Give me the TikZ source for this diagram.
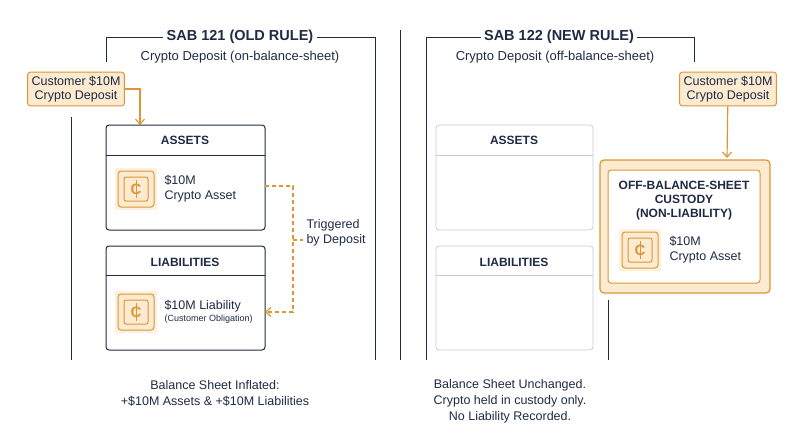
\documentclass[tikz,border=0pt]{standalone}
\usepackage{fontspec}
\setmainfont{Liberation Sans}
\usetikzlibrary{positioning,arrows.meta}
\definecolor{navy}{HTML}{1F2A44}
\definecolor{gold}{HTML}{DD9637}
\definecolor{goldfill}{HTML}{FCEBD0}
\definecolor{paleline}{HTML}{C8CCD4}
\tikzset{frame/.style={draw=navy,line width=1pt},
  deposit/.style={draw=gold,fill=goldfill,rounded corners=3pt,line width=1pt,align=center,text=navy,inner sep=4pt,font=\fontsize{12.5}{14}\selectfont},
  sheet/.style={draw=navy,rounded corners=3pt,line width=1pt},
  ghost/.style={draw=paleline,rounded corners=3pt,line width=0.8pt},
  head/.style={text=navy,font=\bfseries\fontsize{12}{13}\selectfont},
  body/.style={text=navy,align=left,anchor=west,font=\fontsize{12.5}{15}\selectfont},
  flow/.style={draw=gold,line width=1.2pt,-{Straight Barb[length=5pt,width=9pt]}},
  coin/.pic={\fill[goldfill!70] (-21,-21) rectangle (21,21);
    \draw[gold,fill=goldfill,line width=1pt,rounded corners=3pt] (-18,-18) rectangle (18,18);
    \draw[gold,line width=1pt,rounded corners=2pt] (-12,-12) rectangle (12,12);
    \node[text=gold,font=\bfseries\fontsize{15}{15}\selectfont] {C};
    \draw[gold,line width=1pt] (0,-9) -- (0,9);}
}
\begin{document}
\begin{tikzpicture}[x=1pt,y=-1pt]
\useasboundingbox (0,0) rectangle (800,447);
% left panel frame
\node[head,font=\bfseries\fontsize{14.5}{15}\selectfont] (t1) at (240,37) {SAB 121 (OLD RULE)};
\node[text=navy,font=\fontsize{13}{14}\selectfont] (s1) at (240,57) {Crypto Deposit (on-balance-sheet)};
\draw[frame] (106,62) -- (106,37) -- (t1.west);
\draw[frame] (t1.east) -- (375,37) -- (375,360);
\draw[frame] (71,117) -- (71,360);
\draw[navy,line width=1pt] (400,30) -- (400,360);
% deposit
\node[deposit] (dep1) at (76,89) {Customer \$10M\\Crypto Deposit};
\draw[flow] (dep1.east) -- (140,89) -- (140,125);
% assets / liabilities
\draw[sheet] (106,125) rectangle (265,230); \draw[navy,line width=1pt] (106,155) -- (265,155);
\node[head] (as1) at (185,140) {ASSETS};
\pic at (136,189) {coin};
\node[body] (ca1) at (161,189) {\$10M\\Crypto Asset};
\draw[sheet] (106,246) rectangle (265,350); \draw[navy,line width=1pt] (106,275) -- (265,275);
\node[head] (li1) at (185,262) {LIABILITIES};
\pic at (136,312) {coin};
\node[body] (cl1) at (161,312) {\$10M Liability\\[-3pt]{\fontsize{9}{10}\selectfont(Customer Obligation)}};
\coordinate (trA) at (265,186);
\coordinate (trB) at (265,312);
\draw[gold,line width=1.2pt,dash pattern=on 4pt off 3pt,-{Straight Barb[length=5pt,width=9pt]}] (trA) -- (293,186) -- (293,312) -- (trB);
\draw[gold,line width=1.2pt,dash pattern=on 4pt off 3pt] (293,240) -- (303,240);
\node[body] (trig) at (303,233) {Triggered\\by Deposit};
\node[text=navy,align=center,font=\fontsize{12.5}{16}\selectfont] (sum1) at (215,393) {Balance Sheet Inflated:\\+\$10M Assets \& +\$10M Liabilities};
% right panel frame
\node[head,font=\bfseries\fontsize{14.5}{15}\selectfont] (t2) at (559,37) {SAB 122 (NEW RULE)};
\node[text=navy,font=\fontsize{13}{14}\selectfont] (s2) at (555,57) {Crypto Deposit (off-balance-sheet)};
\draw[frame] (426,360) -- (426,37) -- (t2.west);
\draw[frame] (t2.east) -- (694,37) -- (694,62);
\draw[frame] (608,300) -- (608,360);
\node[deposit] (dep2) at (728,89) {Customer \$10M\\Crypto Deposit};
\draw[ghost] (436,125) rectangle (593,230); \draw[paleline,line width=0.8pt] (436,155) -- (593,155);
\node[head] (as2) at (514,140) {ASSETS};
\draw[ghost] (436,246) rectangle (593,350); \draw[paleline,line width=0.8pt] (436,275) -- (593,275);
\node[head] (li2) at (514,262) {LIABILITIES};
\draw[gold,fill=goldfill,line width=1.2pt,rounded corners=4pt] (600,160) rectangle (770,293);
\draw[gold,fill=white,line width=1pt,rounded corners=3pt] (608,170) rectangle (760,283);
\node[head,align=center,font=\bfseries\fontsize{12}{14}\selectfont] (cust) at (684,201) {OFF-BALANCE-SHEET\\CUSTODY\\(NON-LIABILITY)};
\draw[flow] (dep2) -- (727,158);
\pic at (640,250) {coin};
\node[body] (ca2) at (666,250) {\$10M\\Crypto Asset};
\node[text=navy,align=center,font=\fontsize{12.5}{16}\selectfont] (sum2) at (510,401) {Balance Sheet Unchanged.\\Crypto held in custody only.\\No Liability Recorded.};
\end{tikzpicture}
\end{document}
